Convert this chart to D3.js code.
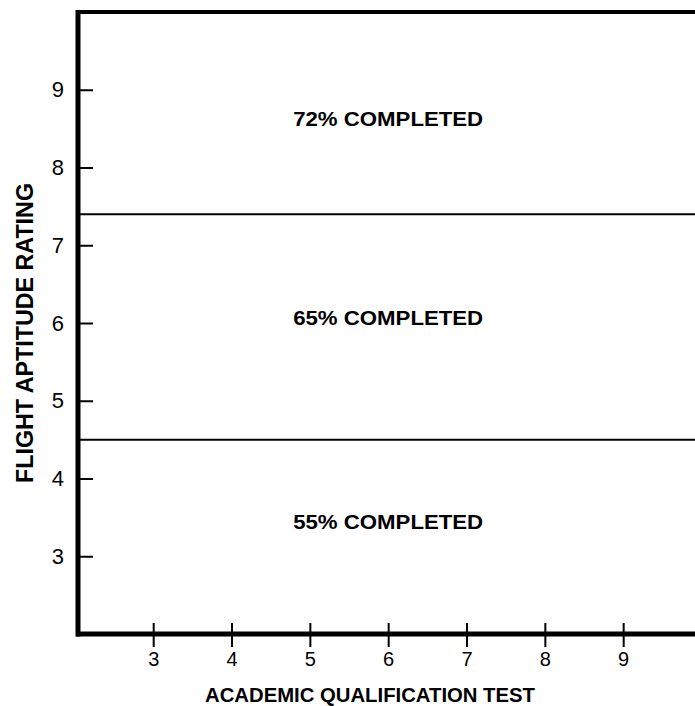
<!DOCTYPE html>
<html><head><meta charset="utf-8">
<script src="https://cdn.jsdelivr.net/npm/d3@7"></script>
<style>body{margin:0;background:#fff}</style>
</head><body><svg id="c" width="695" height="706"></svg>
<script>
const xTicks = [3,4,5,6,7,8,9];
const yTicks = [3,4,5,6,7,8,9];
const boundaries = [7.4, 4.5];
const regionLabels = ["72% COMPLETED","65% COMPLETED","55% COMPLETED"];
const regionLabelY = [8.62, 6.06, 3.44];
const regionLabelX = [6, 6, 6];
const xTitle = "ACADEMIC QUALIFICATION TEST";
const yTitle = "FLIGHT APTITUDE RATING";

const svg = d3.select("#c");
const x = d3.scaleLinear().domain([2.04, 10]).range([78, 701.5]);
const y = d3.scaleLinear().domain([2, 10]).range([634, 12]);
const font = "'Liberation Sans', Arial, Helvetica, sans-serif";

// boundary lines
svg.selectAll("line.b").data(boundaries).enter().append("line")
  .attr("x1", x(2.04)).attr("x2", 695)
  .attr("y1", d => y(d)).attr("y2", d => y(d))
  .attr("stroke", "#000").attr("stroke-width", 2);

// top border
svg.append("line").attr("x1", x(2.04)-2).attr("x2", 695)
  .attr("y1", y(10)).attr("y2", y(10)).attr("stroke","#000").attr("stroke-width",4);

// x axis
const xa = svg.append("g").attr("transform", `translate(0,${y(2)})`)
  .call(d3.axisBottom(x).tickValues(xTicks).tickSize(13).tickPadding(5).tickFormat(d3.format("d")));
xa.select(".domain").remove();
xa.selectAll(".tick line").attr("y1", -11).attr("stroke-width", 2);
xa.selectAll(".tick text").attr("font-family", font).attr("font-size", 20).attr("fill","#000");
svg.append("line").attr("x1", x(2.04)-2).attr("x2", 695).attr("y1", y(2)).attr("y2", y(2))
  .attr("stroke","#000").attr("stroke-width",5);

// y axis
const ya = svg.append("g").attr("transform", `translate(${x(2.04)},0)`)
  .call(d3.axisLeft(y).tickValues(yTicks).tickSize(11).tickPadding(3).tickFormat(d3.format("d")));
ya.select(".domain").remove();
ya.selectAll(".tick line").attr("x2", 15).attr("stroke-width", 2);
ya.selectAll(".tick text").attr("font-family", font).attr("font-size", 22).attr("fill","#000");
svg.append("line").attr("x1", x(2.04)).attr("x2", x(2.04)).attr("y1", y(10)-2).attr("y2", y(2)+2.5)
  .attr("stroke","#000").attr("stroke-width",5);

// region labels
svg.selectAll("text.r").data(regionLabels).enter().append("text")
  .attr("x", (d,i) => x(regionLabelX[i])).attr("y", (d,i) => y(regionLabelY[i]))
  .attr("text-anchor","middle").attr("dominant-baseline","central")
  .attr("font-family", font).attr("font-weight","bold").attr("font-size", 20)
  .attr("textLength", 190).attr("lengthAdjust","spacingAndGlyphs")
  .text(d => d);

// axis titles
svg.append("text").attr("x", 370).attr("y", 702).attr("text-anchor","middle")
  .attr("font-family", font).attr("font-weight","bold").attr("font-size", 21)
  .attr("textLength", 330).attr("lengthAdjust","spacingAndGlyphs").text(xTitle);
svg.append("text").attr("transform", "translate(33,333) rotate(-90)").attr("text-anchor","middle")
  .attr("font-family", font).attr("font-weight","bold").attr("font-size", 23)
  .attr("textLength", 300).attr("lengthAdjust","spacingAndGlyphs").text(yTitle);
</script></body></html>
